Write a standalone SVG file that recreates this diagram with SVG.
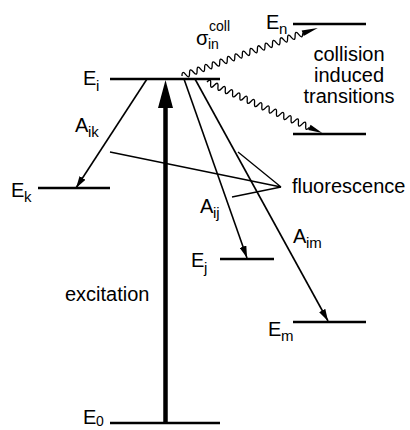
<svg xmlns="http://www.w3.org/2000/svg" width="410" height="430" viewBox="0 0 410 430">
<defs>
<style>
.lvl{stroke:#000;stroke-width:2.5;fill:none}
.t{font-family:"Liberation Sans",Arial,sans-serif;font-size:20px;fill:#000}
.s{font-family:"Liberation Sans",Arial,sans-serif;font-size:15px;fill:#000}
.x{font-family:"Liberation Sans",Arial,sans-serif;font-size:14px;fill:#000}
.c{stroke:#000;stroke-width:1.6;fill:none}
.w{stroke:#000;stroke-width:1.3;fill:none}
.p{stroke:#000;stroke-width:1.3;fill:none}
</style>
<marker id="ah" viewBox="0 0 12 7" refX="12" refY="3.5" markerWidth="12" markerHeight="7" markerUnits="userSpaceOnUse" orient="auto">
<path d="M0,0 L12,3.5 L0,7 z" fill="#000"/>
</marker>
</defs>
<rect width="410" height="430" fill="#fff"/>

<g id="level-Ei">
<line class="lvl" x1="110" y1="79" x2="220" y2="79"/>
<text class="t" x="83" y="85">E</text><text class="s" x="96" y="91">i</text>
</g>
<g id="level-En">
<line class="lvl" x1="293" y1="24" x2="366" y2="24"/>
<text class="t" x="266" y="29">E</text><text class="s" x="279" y="34">n</text>
</g>
<g id="level-Ecoll">
<line class="lvl" x1="293" y1="134" x2="366" y2="134"/>
</g>
<g id="level-Ek">
<line class="lvl" x1="38" y1="188" x2="110" y2="188"/>
<text class="t" x="11" y="197">E</text><text class="s" x="24" y="202">k</text>
</g>
<g id="level-Ej">
<line class="lvl" x1="220" y1="259" x2="274" y2="259"/>
<text class="t" x="191" y="267">E</text><text class="s" x="204" y="273">j</text>
</g>
<g id="level-Em">
<line class="lvl" x1="293" y1="322" x2="366" y2="322"/>
<text class="t" x="268" y="336">E</text><text class="s" x="281" y="341">m</text>
</g>
<g id="level-E0">
<line class="lvl" x1="110" y1="423" x2="220" y2="423"/>
<text class="t" x="83" y="424">E</text><text class="x" x="96" y="426">0</text>
</g>

<g id="connectors">
<!-- excitation -->
<line x1="165.5" y1="423" x2="165.5" y2="104" stroke="#000" stroke-width="4.5"/>
<polygon points="165.5,80 158,108 173,108" fill="#000"/>
<!-- spontaneous emission -->
<line class="c" x1="147" y1="79" x2="76" y2="188" marker-end="url(#ah)"/>
<line class="c" x1="184" y1="79" x2="247" y2="258" marker-end="url(#ah)"/>
<line class="c" x1="195" y1="79" x2="328" y2="321" marker-end="url(#ah)"/>
<!-- collision-induced wavy transitions -->
<g transform="translate(182,76) rotate(-19.5)">
<path class="w" d="M0,0 q2,-6 4,0 t4,0 t4,0 t4,0 t4,0 t4,0 t4,0 t4,0 t4,0 t4,0 t4,0 t4,0 t4,0 t4,0 t4,0 t4,0 t4,0 t4,0 t4,0 t4,0 t4,0 t4,0 t4,0 t4,0 t4,0 t4,0 t4,0 t4,0 t4,0 t4,0 t4,0 t4,0"/>
<polygon points="128,-3 144,0 128,3" fill="#000"/>
</g>
<g transform="translate(207,82) rotate(23.9)">
<path class="w" d="M0,0 q2,-6 4,0 t4,0 t4,0 t4,0 t4,0 t4,0 t4,0 t4,0 t4,0 t4,0 t4,0 t4,0 t4,0 t4,0 t4,0 t4,0 t4,0 t4,0 t4,0 t4,0 t4,0 t4,0 t4,0 t4,0 t4,0 t4,0 t4,0 t4,0"/>
<polygon points="112,-3 126,0 112,3" fill="#000"/>
</g>
<!-- fluorescence pointers -->
<polyline class="p" points="110,152 281,187 238,152"/>
<line class="p" x1="281" y1="187" x2="232" y2="197"/>
</g>

<g id="labels">
<text class="t" x="75" y="132">A</text><text class="s" x="88" y="137">ik</text>
<text class="t" x="200" y="213">A</text><text class="s" x="213" y="218">ij</text>
<text class="t" x="293" y="243">A</text><text class="s" x="306" y="248">im</text>
<text class="t" x="196" y="45">σ</text><text class="x" x="208" y="49">in</text><text class="x" x="209" y="31">coll</text>
<text class="t" x="349" y="61" text-anchor="middle">collision</text>
<text class="t" x="349" y="82" text-anchor="middle">induced</text>
<text class="t" x="349" y="103" text-anchor="middle">transitions</text>
<text class="t" x="292" y="193">fluorescence</text>
<text class="t" x="65" y="301">excitation</text>
</g>
</svg>
